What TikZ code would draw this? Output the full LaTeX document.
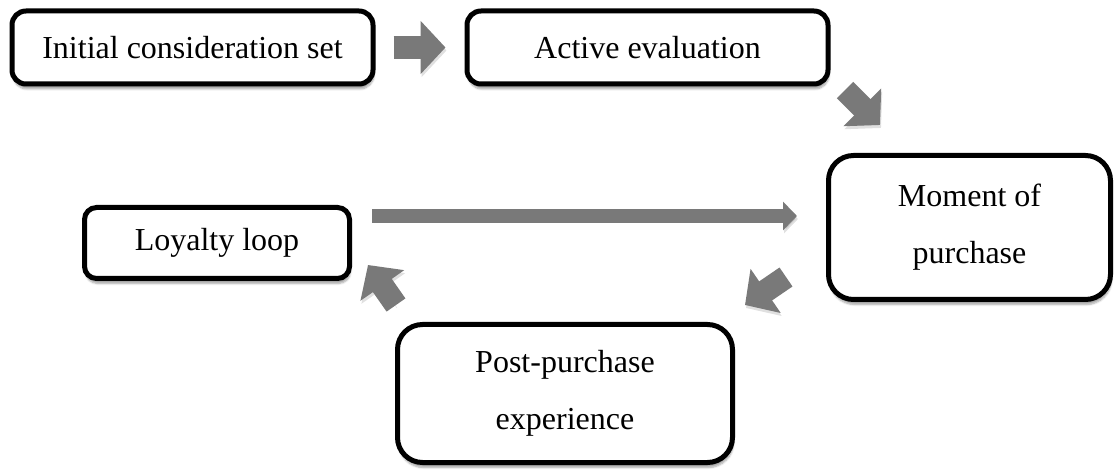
\documentclass[tikz,border=0pt]{standalone}
\usepackage{fontspec}
\setmainfont{Liberation Serif}
\usetikzlibrary{arrows.meta,shadows.blur}

\begin{document}
\begin{tikzpicture}[
    x=1pt, y=-1pt,
    stage/.style={draw, line width=5pt, fill=white, align=center,
                  font=\fontsize{32}{57}\selectfont,
                  blur shadow={shadow xshift=1pt, shadow yshift=-5pt,
                               shadow opacity=35, shadow blur steps=6}},
    small/.style={stage, rounded corners=14pt, minimum height=73pt},
    big/.style={stage, rounded corners=25pt},
    blockarr/.style={draw=gray!95!black, line width=23pt,
                     -{Triangle[length=25pt, width=52pt]},
                     preaction={draw=black, opacity=0.12,
                                transform canvas={xshift=1pt, yshift=-3pt}}},
    thinarr/.style={draw=gray!95!black, line width=14pt,
                    -{Triangle[length=14pt, width=28pt]},
                    preaction={draw=black, opacity=0.12,
                               transform canvas={xshift=1pt, yshift=-3pt}}}
  ]
  \useasboundingbox (0,0) rectangle (1114,470);

  % the five stages
  \node[small, minimum width=361pt] (init) at (192.5,47.5) {Initial consideration set};
  \node[small, minimum width=361pt] (active) at (647.5,47.5) {Active evaluation};
  \node[big, minimum width=282pt, minimum height=144pt] (moment) at (969.5,227.5) {Moment of\\purchase};
  \node[small, rounded corners=12pt, minimum width=265pt, minimum height=71pt] (loyal) at (217,243) {Loyalty loop};
  \node[big, minimum width=335pt, minimum height=138pt] (post) at (565,393.5) {Post-purchase\\experience};

  % free ends of the block arrows
  \coordinate (ev-a) at (845,90);
  \coordinate (ev-b) at (880,125);
  \coordinate (mo-a) at (786,277);
  \coordinate (mo-b) at (745,305);
  \coordinate (pp-a) at (396,305);
  \coordinate (pp-b) at (368,265);
  \coordinate (lo-a) at (372,216);
  \coordinate (lo-b) at (797,216);

  \draw[blockarr, shorten <=18pt, shorten >=19pt] (init) -- (active);
  \draw[blockarr] (ev-a) -- (ev-b);
  \draw[blockarr] (mo-a) -- (mo-b);
  \draw[blockarr] (pp-a) -- (pp-b);
  \draw[thinarr] (lo-a) -- (lo-b);
\end{tikzpicture}
\end{document}
